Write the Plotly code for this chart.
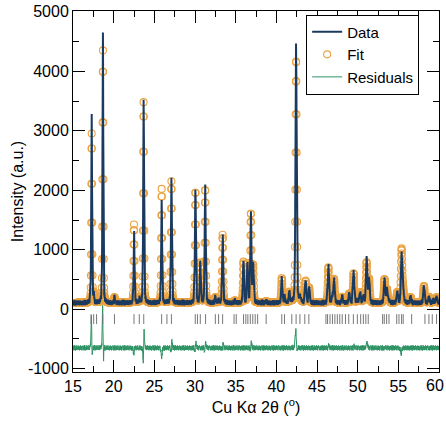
import numpy as np
import plotly.graph_objects as go

# ---- data ----
peak_pos = [17.30, 17.55, 18.68, 20.10, 22.50, 23.15, 23.68, 25.90, 26.55, 27.10,
            30.05, 30.65, 31.25, 32.50, 32.90, 33.40, 34.90, 35.96, 36.45, 36.87,
            37.15, 37.60, 38.75, 40.67, 41.00, 41.60, 41.90, 42.43, 42.90, 43.10,
            43.60, 44.03, 46.40, 46.90, 47.10, 47.50, 48.10, 48.97, 49.50, 49.96,
            50.30, 50.70, 51.10, 51.40, 53.30, 53.60, 53.85, 54.87, 55.40, 55.60,
            56.50, 58.15, 58.76, 59.30, 59.70]
fit_top = [2950, 250, 4350, 200, 1420, 80, 3480, 2020, 120, 2150,
           1980, 780, 2020, 200, 160, 1250, 40, 790, 760, 1600,
           720, 110, 30, 520, 100, 280, 120, 4200, 200, 120,
           470, 360, 700, 200, 500, 110, 100, 260, 600, 150,
           280, 200, 780, 500, 500, 330, 150, 280, 1000, 300,
           200, 390, 100, 150, 200]
data_top = [3300, 250, 4750, 200, 1330, 80, 3520, 1850, 120, 2200,
            2020, 780, 2060, 200, 160, 1280, 40, 790, 760, 1650,
            720, 110, 30, 520, 100, 280, 120, 4450, 200, 120,
            470, 360, 730, 200, 500, 110, 100, 260, 620, 150,
            280, 200, 860, 500, 500, 330, 150, 280, 920, 300,
            200, 390, 100, 150, 200]
data_shift = [-0.008, 0, -0.009, 0, 0.003, 0, 0.007, 0, 0, 0.004,
              0.004, 0, 0.004, 0, 0, 0.004, 0, 0, 0, 0.004,
              0, 0, 0, 0, 0, 0, 0, -0.004, 0, 0,
              0, 0, 0.004, 0, 0, 0, 0, 0, 0.004, 0,
              0, 0, 0.005, 0, 0.004, 0, 0, 0, 0.005, 0,
              0, 0, 0, 0, 0]
background = 105
residual_offset = -650
noise = [22, -14, 38, -27, 9, -40, 16, 31, -7, -33, 47, -18, 5, 25, -45, 13, -11, 34, -23, 2,
         41, -31, 14, -5, 27, -38, 20, -16, 7, 32, -25, -2, 43, -20, 11, -34, 23, -13, 4, 29,
         -41, 18, -9, 36, -22, 0, 40, -29, 16, -4, 31, -36, 9, -14, 25, -43, 13, -18, 5, 34, -27]
reflections = [17.22, 17.54, 17.90, 18.65, 20.10, 22.50, 23.15, 23.70, 25.90, 26.55,
               27.10, 30.03, 30.30, 30.65, 31.30, 32.50, 32.90, 33.40, 34.80, 35.07,
               35.97, 36.25, 36.50, 36.80, 37.10, 37.40, 37.70, 38.75, 40.67, 41.00,
               41.90, 42.43, 42.90, 43.50, 44.00, 46.10, 46.30, 46.60, 46.90, 47.20,
               47.50, 47.80, 48.10, 48.50, 48.90, 49.47, 49.96, 50.37, 50.70, 51.00,
               51.30, 53.07, 53.27, 53.56, 53.85, 54.80, 55.08, 55.40, 55.60, 56.64,
               58.27, 58.76, 59.17, 59.70]
x_tick_vals = [15, 20, 25, 30, 35, 40, 45, 50, 55, 60]
x_tick_text = ["15", "20", "25", "30", "35", "40", "45", "50", "55", "60"]
y_tick_vals = [-1000, 0, 1000, 2000, 3000, 4000, 5000]
y_tick_text = ["-1000", "0", "1000", "2000", "3000", "4000", "5000"]

# ---- profile construction ----
two_theta = np.round(np.arange(15.0, 60.0001, 0.02), 3)


def pv(x, c, w, eta=0.3):
    g = np.exp(-4 * np.log(2) * (x - c) ** 2 / w ** 2)
    lor = 1.0 / (1 + 4 * (x - c) ** 2 / w ** 2)
    return eta * lor + (1 - eta) * g


fit = np.full_like(two_theta, float(background))
data = np.full_like(two_theta, float(background))
for p, hf, hd, s in zip(peak_pos, fit_top, data_top, data_shift):
    w = 0.11 + 0.0022 * (p - 15)
    fit += (hf - background if hf > background else hf) * pv(two_theta, p, w)
    data += (hd - background if hd > background else hd) * pv(two_theta, p + s, w)
data = data + np.resize(np.array(noise, dtype=float), two_theta.size)
resid = data - fit + residual_offset

font_family = "Liberation Sans, Arial, sans-serif"
fig = go.Figure()
fig.add_trace(go.Scatter(
    x=two_theta, y=fit, mode="markers", name="Fit", legendrank=2,
    marker=dict(symbol="circle-open", size=7, color="#eba444", line=dict(width=1.1)),
))
fig.add_trace(go.Scatter(
    x=two_theta, y=data, mode="lines", name="Data", legendrank=1,
    line=dict(color="#1b3a60", width=2),
))
fig.add_trace(go.Scatter(
    x=two_theta, y=resid, mode="lines", name="Residuals", legendrank=3,
    line=dict(color="#2e9364", width=1),
))
fig.add_trace(go.Scatter(
    x=reflections, y=[-165] * len(reflections), mode="markers", showlegend=False,
    marker=dict(symbol="line-ns", size=7, color="#777777", line=dict(width=1, color="#777777")),
))

axis_common = dict(
    showline=True, linecolor="black", linewidth=1, mirror="ticks",
    ticks="inside", ticklen=12, tickwidth=1, tickcolor="black",
    showgrid=False, zeroline=False, automargin=False,
    tickfont=dict(size=16, color="black", family=font_family),
)
# last x label drawn separately so it stays inside the page
fig.update_xaxes(
    range=[15, 60], tickvals=x_tick_vals, ticktext=x_tick_text[:-1] + [""],
    minor=dict(ticks="inside", ticklen=6, dtick=2.5, tick0=15, tickcolor="black", showgrid=False),
    title=dict(text="Cu Kα 2θ (<sup>o</sup>)", font=dict(size=16, color="black", family=font_family), standoff=7),
    **axis_common,
)
fig.update_yaxes(
    range=[-1055, 5015], tickvals=y_tick_vals, ticktext=y_tick_text,
    minor=dict(ticks="inside", ticklen=6, dtick=500, tick0=0, tickcolor="black", showgrid=False),
    title=dict(text="Intensity (a.u.)", font=dict(size=16, color="black", family=font_family), standoff=0),
    **axis_common,
)
fig.add_annotation(
    x=1, xref="paper", y=0, yref="paper", text=x_tick_text[-1], showarrow=False,
    xanchor="right", yanchor="top", xshift=7, yshift=-3,
    font=dict(size=16, color="black", family=font_family),
)
fig.update_layout(
    width=446, height=422,
    margin=dict(l=73, r=7, t=11, b=50),
    paper_bgcolor="white", plot_bgcolor="white",
    font=dict(family=font_family, size=16, color="black"),
    legend=dict(x=0.637, y=0.99, xanchor="left", yanchor="top",
                bgcolor="white", bordercolor="black", borderwidth=1,
                font=dict(size=15), tracegroupgap=0, itemwidth=30),
)
fig.write_html("out.html")
